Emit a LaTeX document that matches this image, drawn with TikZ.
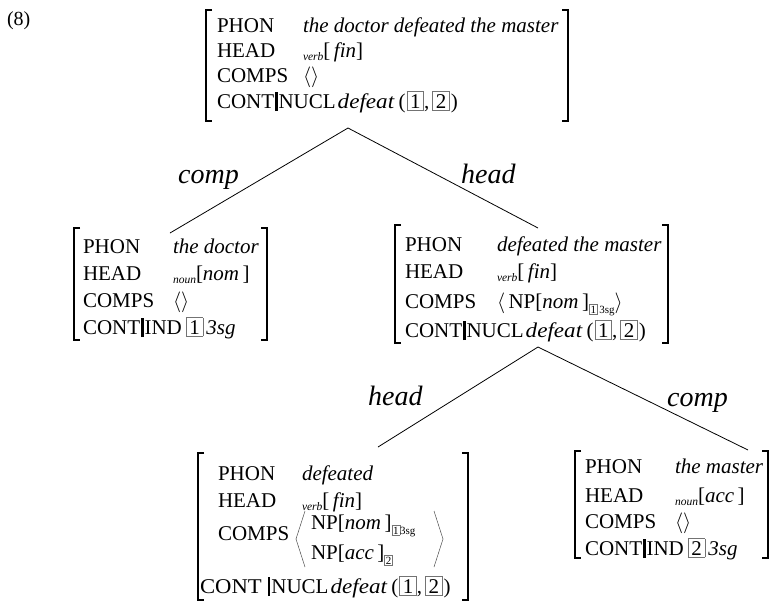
\documentclass[tikz,border=0pt]{standalone}
\usepackage{graphicx}
\usepackage{fontspec}
\setmainfont{Liberation Serif}
% helpers for attribute-value matrices
\newcommand\avmsort[1]{\raisebox{-3.5pt}{\fontsize{11.5}{12}\selectfont\itshape #1}}
\newcommand\avmsub[1]{\raisebox{-5pt}{\fontsize{11}{12}\selectfont #1}}
\newcommand\avmtag[1]{{\setlength\fboxsep{2pt}\setlength\fboxrule{0.7pt}\color{black!55}\fbox{\color{black}\kern0.8pt#1\kern0.8pt}}}
\newcommand\avmtagsmall[1]{{\setlength\fboxsep{1pt}\setlength\fboxrule{0.5pt}\color{black!55}\fbox{\color{black}#1}}}
\newcommand\avmbar{\kern1pt\rule[-3pt]{2.4pt}{19pt}\kern1pt}
\newcommand\avmangl{\ensuremath{\langle}}
\newcommand\avmangr{\ensuremath{\rangle}}
\newcommand\avmnucl[2]{NUCL\kern2pt\scalebox{1.1}[1]{\textit{defeat}}\kern4pt(\kern1pt\avmtag{#1},\kern3pt\avmtag{#2}\kern1pt)}
\begin{document}
\begin{tikzpicture}[x=1pt,y=-1pt,
  lab/.style={anchor=base west,inner sep=0pt,outer sep=0pt},
  big/.style={font=\fontsize{21}{24}\selectfont},
  arclab/.style={anchor=base west,inner sep=0pt,font=\fontsize{28}{30}\selectfont\itshape},
  brk/.style={line width=2.6pt},
  edge/.style={line width=0.8pt},
  angl/.style={line width=0.5pt,draw=black!70}]
\useasboundingbox (0,0) rectangle (773,603);

\node[lab,font=\fontsize{20}{22}\selectfont] (exnum) at (7,25) {(8)};

% ---------- top AVM: the doctor defeated the master
\draw[brk] (206,10) ++(6,0) -- ++(-6,0) -- (206,121) -- ++(6,0);
\draw[brk] (568,10) ++(-6,0) -- ++(6,0) -- (568,121) -- ++(-6,0);
\begin{scope}[every node/.style={lab,big}]
\node (s-phon) at (217,32) {PHON};
\node (s-phonv) at (303,32) {\itshape the doctor defeated the master};
\node (s-head) at (217,57) {HEAD};
\node (s-headv) at (303,57) {\avmsort{verb}[\,\textit{fin}]};
\node (s-comps) at (217,82.5) {COMPS};
\node (s-compsv) at (303,82.5) {\avmangl\avmangr};
\node (s-cont) at (217,108) {CONT\avmbar\avmnucl{1}{2}};
\end{scope}

% ---------- left daughter: the doctor
\draw[brk] (74,228) ++(6,0) -- ++(-6,0) -- (74,340) -- ++(6,0);
\draw[brk] (267,228) ++(-6,0) -- ++(6,0) -- (267,340) -- ++(-6,0);
\begin{scope}[every node/.style={lab,big}]
\node (d-phon) at (83,253) {PHON};
\node (d-phonv) at (173,253) {\itshape the doctor};
\node (d-head) at (83,280) {HEAD};
\node (d-headv) at (173,280) {\avmsort{noun}[\textit{nom}\,]};
\node (d-comps) at (83,307) {COMPS};
\node (d-compsv) at (173,307) {\avmangl\avmangr};
\node (d-cont) at (83,334) {CONT\avmbar IND\kern4pt\avmtag{1}\kern3pt\textit{3sg}};
\end{scope}

% ---------- right daughter: defeated the master
\draw[brk] (395,225) ++(6,0) -- ++(-6,0) -- (395,343) -- ++(6,0);
\draw[brk] (668,225) ++(-6,0) -- ++(6,0) -- (668,343) -- ++(-6,0);
\begin{scope}[every node/.style={lab,big}]
\node (v-phon) at (405,251) {PHON};
\node (v-phonv) at (497,251) {\itshape defeated the master};
\node (v-head) at (405,278) {HEAD};
\node (v-headv) at (497,278) {\avmsort{verb}[\,\textit{fin}]};
\node (v-comps) at (405,308) {COMPS};
\node (v-compsv) at (497,308) {\avmangl\,NP[\textit{nom}\,]\avmsub{\avmtagsmall{1}\,3sg}\avmangr};
\node (v-cont) at (405,337) {CONT\avmbar\avmnucl{1}{2}};
\end{scope}

% ---------- verb: defeated
\draw[brk] (198,453) ++(6,0) -- ++(-6,0) -- (198,600) -- ++(6,0);
\draw[brk] (468,453) ++(-6,0) -- ++(6,0) -- (468,600) -- ++(-6,0);
\begin{scope}[every node/.style={lab,big}]
\node (w-phon) at (218,480) {PHON};
\node (w-phonv) at (302,480) {\itshape defeated};
\node (w-head) at (218,507) {HEAD};
\node (w-headv) at (302,507) {\avmsort{verb}[\,\textit{fin}]};
\node (w-comps) at (218,540) {COMPS};
\node (w-np1) at (311,529) {NP[\textit{nom}\,]\avmsub{\avmtagsmall{1}3sg}};
\node (w-np2) at (311,559) {NP[\textit{acc}\,]\avmsub{\avmtagsmall{2}}};
\node (w-cont) at (200,593) {\scalebox{1.08}[1]{CONT}};
\node (w-nucl) at (267,593) {\avmbar\avmnucl{1}{2}};
\end{scope}
\draw[angl] (305,511) -- (296,539) -- (305,567);
\draw[angl] (434,511) -- (443,539) -- (434,567);

% ---------- object: the master
\draw[brk] (575,451) ++(6,0) -- ++(-6,0) -- (575,558) -- ++(6,0);
\draw[brk] (768,451) ++(-6,0) -- ++(6,0) -- (768,558) -- ++(-6,0);
\begin{scope}[every node/.style={lab,big}]
\node (o-phon) at (585,473) {PHON};
\node (o-phonv) at (675,473) {\itshape the master};
\node (o-head) at (585,502) {HEAD};
\node (o-headv) at (675,502) {\avmsort{noun}[\textit{acc}\,]};
\node (o-comps) at (585,528) {COMPS};
\node (o-compsv) at (675,528) {\avmangl\avmangr};
\node (o-cont) at (585,555) {CONT\avmbar IND\kern4pt\avmtag{2}\kern3pt\textit{3sg}};
\end{scope}

% ---------- tree branches
\coordinate (top-apex) at (348,128);
\coordinate (doc-end) at (170,233);
\coordinate (vp-end) at (538,228);
\coordinate (vp-apex) at (538,347);
\coordinate (verb-end) at (378,447);
\coordinate (obj-end) at (748,450);
\draw[edge] (doc-end) -- (top-apex) -- (vp-end);
\draw[edge] (verb-end) -- (vp-apex) -- (obj-end);
\node[arclab] (l-comp1) at (178,183) {comp};
\node[arclab] (l-head1) at (461,183) {head};
\node[arclab] (l-head2) at (368,405) {head};
\node[arclab] (l-comp2) at (667,406) {comp};
\end{tikzpicture}
\end{document}
